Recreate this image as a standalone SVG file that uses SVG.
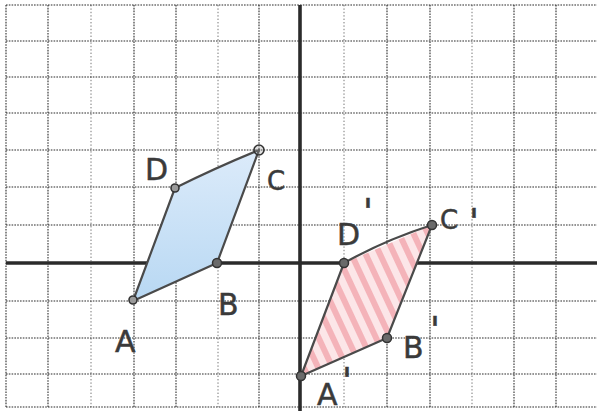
<svg xmlns="http://www.w3.org/2000/svg" width="597" height="411" viewBox="0 0 597 411">
<defs>
<style>
.g{stroke:#2a2a2a;stroke-width:1.1;stroke-dasharray:1.6 1.2;fill:none}
.gl{stroke:#777;stroke-width:1;stroke-dasharray:1.4 2;fill:none}
.ax{stroke:#2b2b2b;stroke-width:3.6;fill:none}
.edge{stroke:#4a4a4a;stroke-width:2.2;fill:none;stroke-linejoin:round}
.pt{fill:#6a6a6a;stroke:#333;stroke-width:1.5}
.ring{fill:#9a9a9a;stroke:#333;stroke-width:1.6}
.lbl{font-family:"DejaVu Sans","Liberation Sans",sans-serif;font-size:30px;fill:#3a3a3a;stroke:#3a3a3a;stroke-width:0.5}
.sm{font-size:26px}
.pr{font-size:36px}
</style>
<pattern id="pink" patternUnits="userSpaceOnUse" width="13" height="13" patternTransform="rotate(-25)">
<rect width="13" height="13" fill="#fce6e8"/>
<rect width="6" height="13" fill="#f4b3b9"/>
</pattern>
<linearGradient id="blue" x1="0" y1="0" x2="0" y2="1">
<stop offset="0" stop-color="#dcebfa"/>
<stop offset="1" stop-color="#b8d8f3"/>
</linearGradient>
</defs>
<rect width="597" height="411" fill="#fff"/>
<g id="grid">
<path class="g" d="M6 5V407M48 5V407M134 5V407M176 5V407M259 5V407M387 5V407M430 5V407M514 5V407M556 5V407"/>
<path class="gl" d="M91 5V407M218 5V407M344 5V407M472 5V407"/>
<path class="g" d="M6 5H597M6 41H597M6 77H597M6 113H597M6 150H597M6 187H597M6 225H597M6 301H597M6 338H597M6 374H597M6 407H597"/>
</g>
<g id="axes">
<path class="ax" d="M6 263H597"/>
<path class="ax" d="M300 5V411"/>
</g>
<g id="fills">
<polygon points="133,301 217,263 259,150 175,188" fill="url(#blue)"/>
<polygon points="301,376 387,338 432,225 344,263" fill="url(#pink)"/>
</g>
<g id="connectors">
<path class="edge" d="M133 301L217 263L259 150Q215 168 175 188L133 301"/>
<path class="edge" d="M301 376L387 338L432 225Q385 240 344 263L301 376"/>
</g>
<g id="node-A"><circle class="ring" cx="133" cy="300" r="4"/><text class="lbl" x="115" y="352">A</text></g>
<g id="node-B"><circle class="pt" cx="217" cy="263" r="4.5"/><text class="lbl" x="218" y="315">B</text></g>
<g id="node-C"><circle class="ring" cx="259" cy="150" r="5" fill-opacity="0.3"/><text class="lbl sm" x="267" y="190">C</text></g>
<g id="node-D"><circle class="ring" cx="175" cy="188" r="4"/><text class="lbl" x="145" y="180">D</text></g>
<g id="node-A2"><circle class="pt" cx="301" cy="376" r="4.5"/><text class="lbl" x="317" y="405">A<tspan class="pr" x="342" y="393">'</tspan></text></g>
<g id="node-B2"><circle class="pt" cx="387" cy="338" r="4.5"/><text class="lbl" x="403" y="358">B<tspan class="pr" x="430" y="342">'</tspan></text></g>
<g id="node-C2"><circle class="pt" cx="432" cy="225" r="4.5"/><text class="lbl sm" x="440" y="229">C<tspan class="pr" x="469" y="234">'</tspan></text></g>
<g id="node-D2"><circle class="pt" cx="344" cy="263" r="4.5"/><text class="lbl" x="337" y="245">D<tspan class="pr" x="363" y="224">'</tspan></text></g>
</svg>
